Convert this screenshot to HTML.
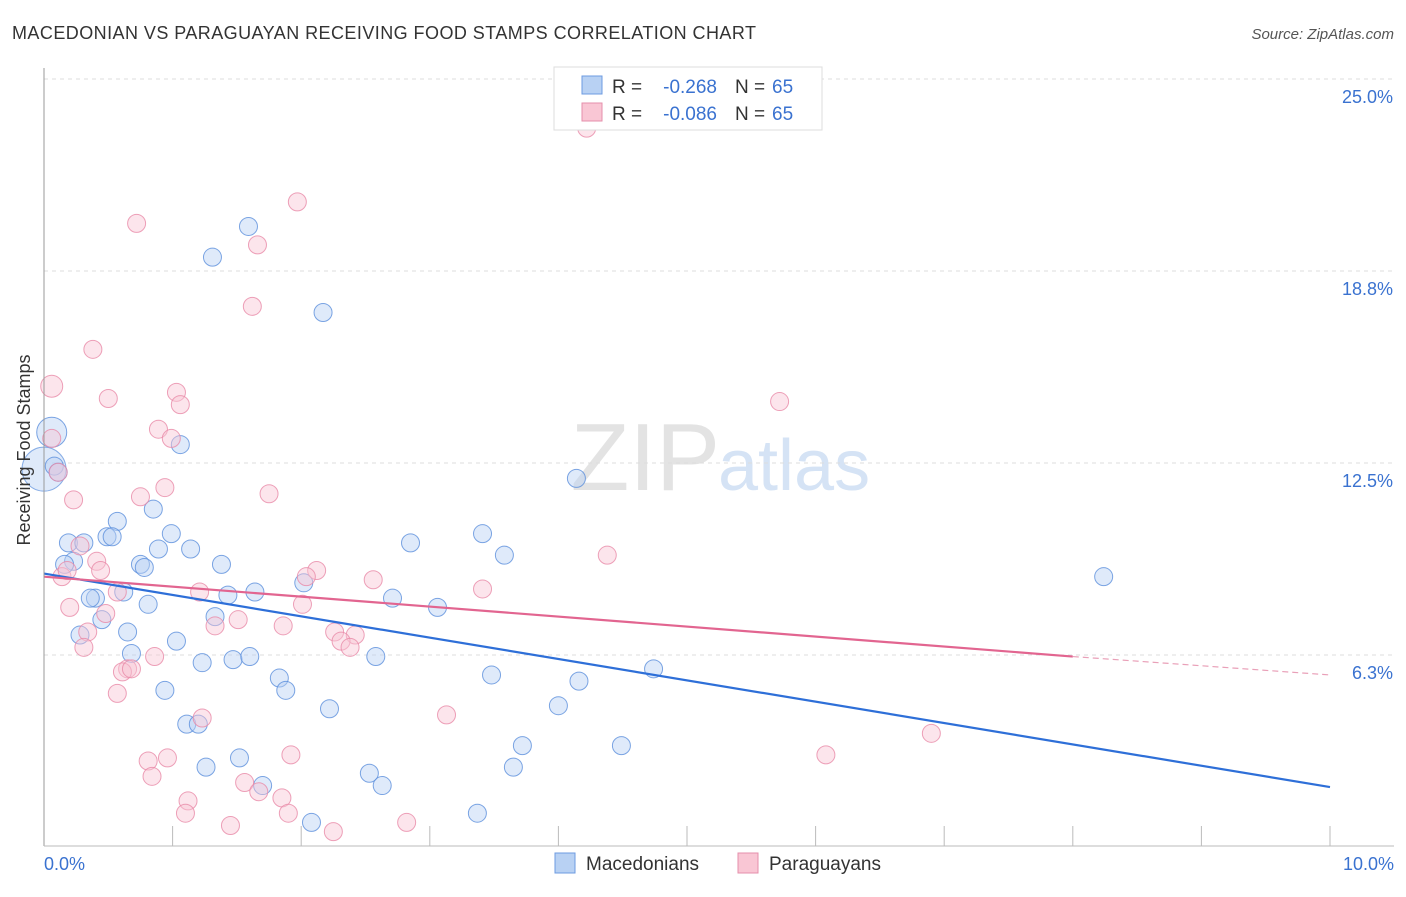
<!DOCTYPE html>
<html><head><meta charset="utf-8"><style>
body{margin:0;background:#fff;font-family:"Liberation Sans",sans-serif}
svg text{font-family:"Liberation Sans",sans-serif}
</style></head><body>
<svg id="c" width="1406" height="892">
<text x="12" y="39" font-size="18" fill="#333" textLength="744">MACEDONIAN VS PARAGUAYAN RECEIVING FOOD STAMPS CORRELATION CHART</text>
<text x="1394" y="39" font-size="15" fill="#555" font-style="italic" text-anchor="end">Source: ZipAtlas.com</text>
<text x="720" y="490" font-size="96" fill="#e3e3e3" text-anchor="end" font-family="Liberation Serif">ZIP</text>
<text x="718" y="490" font-size="72" fill="#d5e3f5">atlas</text>
<g id="grid"></g><g id="pts"></g><g id="lines"></g>
<line x1="44" y1="68" x2="44" y2="846" stroke="#999"/>
<line x1="44" y1="846" x2="1394" y2="846" stroke="#bbb"/>
<text x="36" y="456" font-size="18" fill="#333" transform="rotate(-90 30 456)" text-anchor="middle">Receiving Food Stamps</text>
<text x="44" y="870" font-size="18" fill="#3a72d0">0.0%</text>
<text x="1394" y="870" font-size="18" fill="#3a72d0" text-anchor="end">10.0%</text>
<g>
<rect x="554" y="67" width="268" height="63" fill="#fff" stroke="#ddd"/>
<rect x="582" y="76" width="20" height="18" fill="#b8d1f3" stroke="#6d9be0"/>
<rect x="582" y="103" width="20" height="18" fill="#f9c6d4" stroke="#e58fab"/>
<text x="612" y="93" font-size="19" fill="#333">R =</text>
<text x="717" y="93" font-size="19" fill="#3a72d0" text-anchor="end">-0.268</text>
<text x="735" y="93" font-size="19" fill="#333">N =</text>
<text x="772" y="93" font-size="19" fill="#3a72d0">65</text>
<text x="612" y="120" font-size="19" fill="#333">R =</text>
<text x="717" y="120" font-size="19" fill="#3a72d0" text-anchor="end">-0.086</text>
<text x="735" y="120" font-size="19" fill="#333">N =</text>
<text x="772" y="120" font-size="19" fill="#3a72d0">65</text>
</g>
<g>
<rect x="555" y="853" width="20" height="20" fill="#b8d1f3" stroke="#6d9be0"/>
<text x="586" y="870" font-size="19" fill="#333">Macedonians</text>
<rect x="738" y="853" width="20" height="20" fill="#f9c6d4" stroke="#e58fab"/>
<text x="769" y="870" font-size="19" fill="#333">Paraguayans</text>
</g>
</svg>
<script>
const yTicks=[6.25,12.5,18.75,25];
const yTickLabels=["6.3%","12.5%","18.8%","25.0%"];
const xTicks=[1,2,3,4,5,6,7,8,9,10];
const macX=[1.59,1.31,2.17,0.06,0.08,0.11,1.06,4.14,0.85,0.57,0.49,0.53,0.99,0.19,0.31,0.89,1.14,2.85,3.41,3.58,0.23,0.16,0.75,0.78,1.38,8.24,2.02,1.64,1.43,0.62,0.40,0.36,0.81,2.71,3.06,1.33,0.45,0.65,0.28,1.03,0.68,1.23,1.47,1.60,2.58,4.74,1.83,3.48,4.16,1.88,0.94,4.00,2.22,1.11,1.20,3.72,4.49,1.52,1.26,3.65,2.53,1.70,2.63,2.08,3.37];
const macY=[20.2,19.2,17.4,13.5,12.4,12.2,13.1,12.0,11.0,10.6,10.1,10.1,10.2,9.9,9.9,9.7,9.7,9.9,10.2,9.5,9.3,9.2,9.2,9.1,9.2,8.8,8.6,8.3,8.2,8.3,8.1,8.1,7.9,8.1,7.8,7.5,7.4,7.0,6.9,6.7,6.3,6.0,6.1,6.2,6.2,5.8,5.5,5.6,5.4,5.1,5.1,4.6,4.5,4.0,4.0,3.3,3.3,2.9,2.6,2.6,2.4,2.0,2.0,0.8,1.1];
const parX=[4.22,1.97,0.72,1.66,1.62,0.38,0.06,0.50,1.03,1.06,5.72,0.89,0.99,0.06,0.11,0.23,0.75,0.94,1.75,0.28,0.41,0.44,4.38,0.14,0.18,2.12,2.04,2.56,1.21,3.41,0.57,0.20,0.48,2.01,1.51,1.33,1.86,0.34,2.26,2.42,2.31,2.38,0.31,0.86,0.65,0.61,0.68,0.57,3.13,1.23,6.90,0.81,0.96,1.92,6.08,0.84,1.56,1.67,1.12,1.85,1.10,1.90,1.45,2.82,2.25];
const parY=[23.4,21.0,20.3,19.6,17.6,16.2,15.0,14.6,14.8,14.4,14.5,13.6,13.3,13.3,12.2,11.3,11.4,11.7,11.5,9.8,9.3,9.0,9.5,8.8,9.0,9.0,8.8,8.7,8.3,8.4,8.3,7.8,7.6,7.9,7.4,7.2,7.2,7.0,7.0,6.9,6.7,6.5,6.5,6.2,5.8,5.7,5.8,5.0,4.3,4.2,3.7,2.8,2.9,3.0,3.0,2.3,2.1,1.8,1.5,1.6,1.1,1.1,0.7,0.8,0.5];
const macLine=[0,8.9,10,1.95];
const parLine=[0,8.8,8,6.2,10,5.6];
const NS="http://www.w3.org/2000/svg";
const sx=v=>44+v*128.6, sy=v=>847-v*30.72;
function mk(t,a,p){const e=document.createElementNS(NS,t);for(const k in a)e.setAttribute(k,a[k]);p.appendChild(e);return e;}
const g=document.getElementById('grid');
yTicks.forEach((t,i)=>{
 const l=mk('line',{x1:44,x2:1394,y1:sy(t),y2:sy(t),stroke:'#ddd','stroke-dasharray':'4 4'},g);
 
 
 const tx=mk('text',{x:1393,y:sy(t)+24,'font-size':18,fill:'#3a72d0','text-anchor':'end'},g);
 tx.textContent=yTickLabels[i];
 
 
});
xTicks.forEach(t=>{
 const l=mk('line',{x1:sx(t),x2:sx(t),y1:826,y2:846,stroke:'#bbb'},g);
 
 
});
const p=document.getElementById('pts');
function dot(x,y,r,f,s,name){const c=mk('circle',{cx:sx(x),cy:sy(y),r:r,fill:f,'fill-opacity':0.45,stroke:s,'stroke-width':1,'stroke-opacity':0.8},p);
 
 }
dot(0,12.3,22,'#b8d1f3','#6d9be0','macedonian-point-large');
macX.forEach((x,i)=>dot(x,macY[i],i==3?15:9,'#b8d1f3','#5b8fdc','macedonian-point'));
parX.forEach((x,i)=>dot(x,parY[i],i==6?11:9,'#f9c6d4','#e88aa8','paraguayan-point'));
const L=document.getElementById('lines');
const bl=mk('line',{x1:sx(macLine[0]),y1:sy(macLine[1]),x2:sx(macLine[2]),y2:sy(macLine[3]),stroke:'#2e6fd8','stroke-width':2.2},L);


const pl=mk('line',{x1:sx(parLine[0]),y1:sy(parLine[1]),x2:sx(parLine[2]),y2:sy(parLine[3]),stroke:'#e26590','stroke-width':2.2},L);


const pd=mk('line',{x1:sx(parLine[2]),y1:sy(parLine[3]),x2:sx(parLine[4]),y2:sy(parLine[5]),stroke:'#e9a0b8','stroke-width':1.2,'stroke-dasharray':'6 4'},L);


</script>
</body></html>
